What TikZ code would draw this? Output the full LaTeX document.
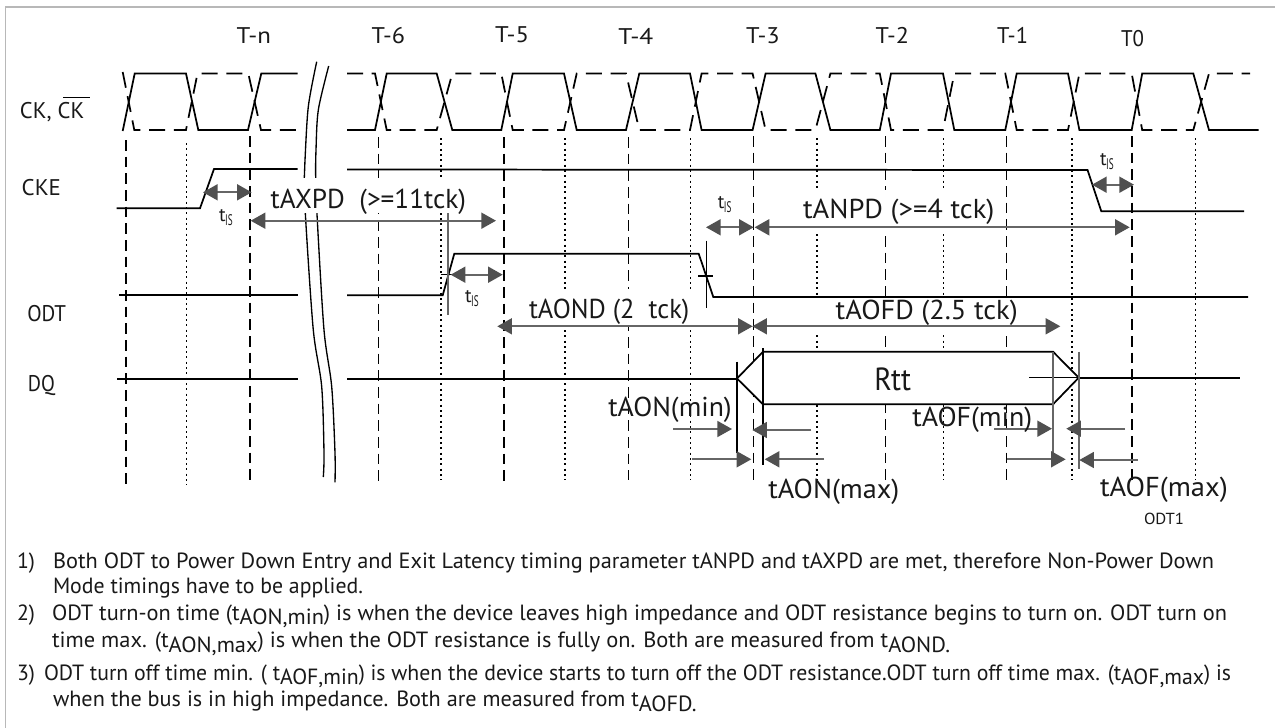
\documentclass[tikz,border=0pt]{standalone}
\usepackage{fontspec}
\usepackage{graphicx}
\setmainfont{PT Sans}
\usetikzlibrary{arrows.meta}
\newlength\pxu \setlength\pxu{0.75pt}
\newcommand\fitw[2]{\resizebox{#1\pxu}{\height}{#2}}
\newcommand\subs[1]{\raisebox{-3.6pt}{#1}}
\newcommand\tis{{\fontsize{14.5}{14.5}\selectfont t}\kern-0.3pt\raisebox{-3pt}{\scalebox{.6}[1]{\fontsize{11.5}{11.5}\selectfont IS}}}
\definecolor{tipc}{HTML}{505050}
\definecolor{shaft}{HTML}{666666}
\definecolor{framec}{HTML}{B8B8B8}
\tikzset{
  sigline/.style={line width=1.3pt,black,line join=miter},
  clkdash/.style={line width=1.3pt,black,dash pattern=on 12pt off 6.5pt},
  vdash/.style={line width=1pt,black,dash pattern=on 8pt off 4.5pt},
  vdot/.style={line width=1pt,black,dash pattern=on 1.5pt off 2.5pt},
  thinv/.style={line width=0.8pt,black},
  grayv/.style={line width=1pt,shaft},
  dimr/.style={line width=1.35pt,shaft,-{Triangle[length=11pt,width=12pt,color=tipc]}},
  dimb/.style={line width=1.35pt,shaft,{Triangle[length=11pt,width=12pt,color=tipc]}-{Triangle[length=11pt,width=12pt,color=tipc]}},
  lbl/.style={anchor=base west,inner sep=0pt,outer sep=0pt,text=black!90},
  sm/.style={lbl,font=\fontsize{17}{17}\selectfont},
  big/.style={lbl,font=\fontsize{20.5}{20.5}\selectfont},
  note/.style={lbl,font=\fontsize{16.5}{16.5}\selectfont},
}
\begin{document}
\begin{tikzpicture}[x=0.75pt,y=-0.75pt]
\useasboundingbox (0,0) rectangle (1275,728);
\fill[white] (0,0) rectangle (1275,728);
% frame
\draw[line width=1.4pt,framec] (5.5,728) -- (5.5,7.3) -- (1275,7.3);
% vertical reference lines
\foreach \x/\a/\b in {126/140/485,250/136/481,378.7/137/481,504/137/481,628.3/137/480,753.7/136/481,885.7/136/480,1006.7/136/480,1132/136/480}
  \draw[vdash] (\x,\a) -- (\x,\b);
\foreach \x/\a/\b in {186.7/143/485,441/138/480,565/138/480,690.3/138/480,817/138/480,943.3/138/480,1072/138/480,1195.5/138/480}
  \draw[vdot] (\x,\a) -- (\x,\b);
% axis break
\draw[sigline,line width=1pt] plot[smooth] coordinates {(316.7,61.7)(308.3,106.7)(305,160)(304.3,178)(305.7,220)(313.3,330)(321.7,386.7)(324,453)(323.3,477)};
\draw[sigline,line width=1pt] plot[smooth] coordinates {(328.7,66)(318.3,110)(316,150)(315.7,178)(317.3,220)(324,330)(331.7,386.7)(335,453)(335,482.3)};
% label masks
\fill[white] (262,178) rectangle (472,213);
\fill[white] (770,190) rectangle (1000,232);
\fill[white] (520,289) rectangle (696,326);
\fill[white] (810,297) rectangle (1030,333);
% clock
\draw[sigline] (122.7,131) -- (134.7,73.5) -- (186,73.5) -- (198.3,130) -- (248,130) -- (261.3,73.5) -- (297.7,73.5);
\draw[clkdash] (122.7,72) -- (134.3,130) -- (186,130) -- (197.5,73.5) -- (248.3,73.5) -- (261,130) -- (297.7,130);
\draw[sigline] (347,130) -- (375,130) -- (386.7,73.5) -- (436.7,73.5) -- (452.3,130) -- (501.3,130) -- (512.7,73.5) -- (564,73.5) -- (576.7,130) -- (626,130) -- (639.3,73.5) -- (690,73.5) -- (701.6,130) -- (752.6,130) -- (765.6,73.5) -- (815.4,73.5) -- (830.4,130) -- (879.8,130) -- (891,73.5) -- (943,73.5) -- (954.3,130) -- (1005.3,130) -- (1016.7,73.5) -- (1068,73.5) -- (1079.4,130) -- (1131.7,130) -- (1142.2,73.5) -- (1193.3,73.5) -- (1209,130) -- (1258.5,130);
\draw[clkdash] (347,73.5) -- (375,73.5) -- (386.7,130) -- (436.7,130) -- (452.3,73.5) -- (501.3,73.5) -- (512.7,130) -- (564,130) -- (576.7,73.5) -- (626,73.5) -- (639.3,130) -- (690,130) -- (701.6,73.5) -- (752.6,73.5) -- (765.6,130) -- (815.4,130) -- (830.4,73.5) -- (879.8,73.5) -- (891,130) -- (943,130) -- (954.3,73.5) -- (1005.3,73.5) -- (1016.7,130) -- (1068,130) -- (1079.4,73.5) -- (1131.7,73.5) -- (1142.2,130) -- (1193.3,130) -- (1209,73.5) -- (1250,73.5);
% CKE
\draw[sigline] (116.7,208.3) -- (200,208.3) -- (214,169) -- (297.7,169);
\draw[sigline] (347,169.5) -- (1087.5,170) -- (1101.3,211.3) -- (1244,211.3);
% ODT
\draw[sigline] (119,295.3) -- (297.7,295.3);
\draw[sigline] (347,295.3) -- (442.7,295.3) -- (454.3,253.7) -- (698.7,253.7) -- (713.3,297) -- (1248,297);
\draw[thinv] (440.7,274.3) -- (455.3,274.3);
\draw[thinv] (698,276) -- (713,276);
% DQ
\draw[sigline] (117.3,378.7) -- (297.7,378.7);
\draw[sigline] (347,378.7) -- (737,378.7);
\draw[sigline,fill=white] (737,378.5) -- (763,351.7) -- (1053,351.7) -- (1078.7,377.7) -- (1053,404.3) -- (763,404.3) -- cycle;
\draw[sigline] (1078.7,377.7) -- (1240,377.7);
\draw[thinv] (1029,377.5) -- (1078,377.5);
% extension lines
\draw[grayv] (448,213) -- (448,314.7);
\draw[thinv] (706.2,240.6) -- (706.2,308);
\draw[thinv] (737,361.7) -- (737,453);
\draw[thinv] (763,348) -- (763,465);
\draw[grayv] (1053,352) -- (1053,458);
\draw[grayv,line width=1.4pt] (1079,351.7) -- (1079,469);
% dimension arrows
\draw[dimb] (203,192.3) -- (251.7,192.3);
\draw[dimb] (250.7,220.7) -- (496,220.7);
\draw[dimb] (706,227.3) -- (753.7,227.3);
\draw[dimb] (754.6,227.3) -- (1129.7,227.3);
\draw[dimb] (1092,184.7) -- (1134,184.7);
\draw[dimb] (450.7,274.7) -- (502.7,274.7);
\draw[dimb] (497.3,326.3) -- (752.7,326.3);
\draw[dimb] (752.3,326.3) -- (1060.3,326.3);
\draw[dimr] (673.3,429) -- (732,429);
\draw[dimr] (811,430) -- (752.3,430);
\draw[dimr] (691.7,459.3) -- (751.3,459.3);
\draw[dimr] (824,459.3) -- (764.7,459.3);
\draw[dimr] (994.3,428.7) -- (1052,428.7);
\draw[dimr] (1125,428.7) -- (1066.3,428.7);
\draw[dimr] (1007,459.3) -- (1065.7,459.3);
\draw[dimr] (1137.7,460) -- (1079.3,460);
% clock labels
\node[sm] (tn) at (236.7,43.7) {\fitw{34.3}{T-n}};
\node[sm] (t6) at (371.7,43.7) {\fitw{33.3}{T-6}};
\node[sm] (t5) at (495,42.7) {\fitw{34}{T-5}};
\node[sm] (t4) at (618.3,44) {\fitw{35}{T-4}};
\node[sm] (t3) at (746,43.7) {\fitw{33.7}{T-3}};
\node[sm] (t2) at (875.7,43.7) {\fitw{33.3}{T-2}};
\node[sm] (t1) at (997,43.7) {\fitw{31}{T-1}};
\node[sm] (t0) at (1121,46.7) {\fitw{23}{T0}};
% signal names
\node[sm] (ck) at (20,118.3) {\fitw{64.3}{CK, CK}};
\draw[thinv,line width=0.85pt] (63.3,97.7) -- (90,97.7);
\node[sm] (cke) at (21.7,195.7) {\fitw{39.3}{CKE}};
\node[sm] (odt) at (27.3,321.7) {\fitw{38.7}{ODT}};
\node[sm] (dq) at (28,391.5) {\fitw{27}{DQ}};
% tIS
\node[lbl] (tis1) at (219,221.7) {\tis};
\node[lbl] (tis2) at (717.8,208.3) {\tis};
\node[lbl] (tis3) at (1100,165) {\tis};
\node[lbl] (tis4) at (465,302) {\tis};
% timing labels
\node[big] (axpd) at (270.7,208) {\fitw{195.3}{tAXPD\ \ (>=11tck)}};
\node[big] (anpd) at (803,218.3) {\fitw{191.4}{tANPD (>=4 tck)}};
\node[big] (aond) at (529,318.7) {\fitw{160.3}{tAOND (2\ \ tck)}};
\node[big] (aofd) at (835.7,319.3) {\fitw{182}{tAOFD (2.5 tck)}};
\node[lbl,font=\fontsize{24}{24}\selectfont] (rtt) at (874.3,390.7) {\fitw{36.7}{Rtt}};
\node[big] (aonmin) at (608.3,416.7) {\fitw{123.4}{tAON(min)}};
\node[big] (aofmin) at (912.3,426.7) {\fitw{120}{tAOF(min)}};
\node[big] (aonmax) at (768.3,498.3) {\fitw{131}{tAON(max)}};
\node[big] (aofmax) at (1100,496.7) {\fitw{127.7}{tAOF(max)}};
\node[lbl,font=\fontsize{12}{12}\selectfont] (odt1) at (1144,524) {\fitw{40}{ODT1}};
% notes
\node[note] (n1) at (17,568.3) {\fitw{18}{1)}};
\node[note] (l1) at (53,568.3) {\fitw{1161}{Both ODT to Power Down Entry and Exit Latency timing parameter tANPD and tAXPD are met, therefore Non-Power Down}};
\node[note] (l2) at (53,593.3) {\fitw{310}{Mode timings have to be applied.}};
\node[note] (n2) at (17,620) {\fitw{18}{2)}};
\node[note] (l3) at (52,620) {\fitw{1175}{ODT turn-on time (t\subs{AON,min}) is when the device leaves high impedance and ODT resistance begins to turn on. ODT turn on}};
\node[note] (l4) at (52,647.3) {\fitw{898}{time max. (t\subs{AON,max}) is when the ODT resistance is fully on. Both are measured from t\subs{AOND.}}};
\node[note] (n3) at (17,680) {\fitw{18}{3)}};
\node[note] (l5) at (44,680) {\fitw{1187}{ODT turn off time min. ( t\subs{AOF,min}) is when the device starts to turn off the ODT resistance.ODT turn off time max. (t\subs{AOF,max}) is}};
\node[note] (l6) at (53,706.7) {\fitw{643.7}{when the bus is in high impedance. Both are measured from t\subs{AOFD.}}};
\end{tikzpicture}
\end{document}
